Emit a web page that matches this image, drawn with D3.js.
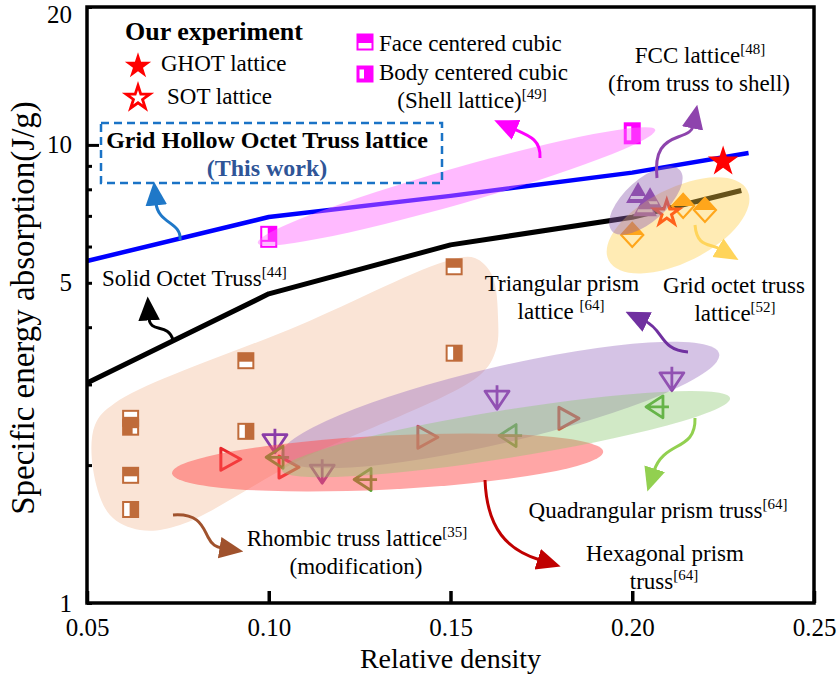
<!DOCTYPE html>
<html>
<head>
<meta charset="utf-8">
<script src="https://cdn.jsdelivr.net/npm/d3@7"></script>
<style>
  body { margin: 0; background: #fff; }
  text { font-family: "Liberation Serif", "Times New Roman", serif; fill: #000; }
</style>
</head>
<body>
<div id="chart"></div>
<script>
// ---- data (relative density, specific energy absorption J/g) ----
var xTicks = [0.05, 0.10, 0.15, 0.20, 0.25];
var yTicks = [1, 2, 3, 4, 5, 6, 7, 8, 9, 10, 20];
var yTickLabels = [1, 5, 10, 20];

var ghotTrend = [[0.05, 5.58], [0.10, 6.96], [0.15, 7.74], [0.20, 8.7], [0.232, 9.6]];
var solidOctet = [[0.05, 3.02], [0.10, 4.73], [0.15, 6.05], [0.20, 6.95], [0.23, 7.95]];

var ghot = [[0.225, 9.2]];
var sot = [[0.2095, 7.1]];

var shellLattice = [[0.10, 6.3, "mixed"], [0.20, 10.6, "bcc"]];
var rhombic = [
  [0.062, 2.53, "top"], [0.062, 2.42, "corner"], [0.062, 1.90, "bottom"], [0.062, 1.60, "left"],
  [0.0937, 2.37, "left"], [0.0937, 3.38, "bottom"], [0.151, 5.42, "bottom"], [0.151, 3.51, "left"]
];
var triPrism = [[0.1017, 2.25], [0.1147, 1.93], [0.1628, 2.80], [0.2109, 3.07]];
var hexPrism = [[0.0893, 2.06], [0.1053, 1.98], [0.1435, 2.30], [0.1823, 2.53]];
var quadPrism = [[0.1023, 2.08], [0.1265, 1.86], [0.1664, 2.32], [0.2068, 2.68]];
var gridOctet = [[0.200, 6.36], [0.214, 7.36], [0.220, 7.21]];
var fccLattice = [[0.2016, 7.85], [0.2049, 7.65], [0.2035, 7.35]];

// data clusters: long-axis end points (data units)
var clusters = [
  {name: "shell", a: [0.097, 6.11], b: [0.2063, 10.79], color: "#ff66ff", op: 0.45, hw: 18},
  {name: "tri", a: [0.1034, 2.09], b: [0.2239, 3.50], color: "#9b6fc0", op: 0.42, hw: 38},
  {name: "hex", a: [0.0734, 1.92], b: [0.192, 2.14], color: "#ff4d4d", op: 0.5, hw: 27},
  {name: "quad", a: [0.1036, 1.95], b: [0.2269, 2.80], color: "#8cc870", op: 0.4, hw: 24},
  {name: "grid", a: [0.1935, 5.6], b: [0.2317, 7.95], color: "#ffcc44", op: 0.4, hw: 37},
  {name: "fcc", a: [0.1944, 6.49], b: [0.2131, 8.82], color: "#8e5fb0", op: 0.42, hw: 21}
];
var rhombicArea = [
  [0.0517, 1.951], [0.0522, 2.447], [0.0577, 2.734], [0.1086, 4.046], [0.1499, 5.61],
  [0.1567, 5.667], [0.1614, 5.203], [0.1631, 4.149], [0.1625, 3.567], [0.1581, 3.147],
  [0.1086, 2.052], [0.0756, 1.48], [0.0646, 1.443], [0.0563, 1.556]
];

// ---- layout ----
var svgWidth = 837, svgHeight = 679;
var plotL = 87, plotR = 814, plotT = 7, plotB = 603;

var svg = d3.select("#chart").append("svg")
  .attr("width", svgWidth)
  .attr("height", svgHeight);

var x = d3.scaleLinear().domain([0.05, 0.25]).range([plotL, plotR]);
var y = d3.scaleLog().domain([1, 20]).range([plotB, plotT]);

var defs = svg.append("defs");
var arrowColors = {blue: "#1f78c8", black: "#000", magenta: "#ff00ff", purple: "#8e44ad",
  yellow: "#ffd45a", violet: "#7030a0", green: "#92d050", red: "#c00000", brown: "#a0522d"};
Object.keys(arrowColors).forEach(function(k) {
  defs.append("marker")
    .attr("id", "head-" + k)
    .attr("markerUnits", "userSpaceOnUse")
    .attr("markerWidth", 24).attr("markerHeight", 24)
    .attr("viewBox", "0 -10 20 20")
    .attr("refX", 2).attr("refY", 0)
    .attr("orient", "auto")
    .append("path")
    .attr("d", "M0,-9L20,0L0,9Z")
    .attr("fill", arrowColors[k]);
});

// rhombic cluster area
svg.append("path")
  .datum(rhombicArea)
  .attr("d", d3.line().x(d => x(d[0])).y(d => y(d[1])).curve(d3.curveCatmullRomClosed.alpha(0.5)))
  .attr("fill", "#fae4d6");

// trend lines
var line = d3.line().x(d => x(d[0])).y(d => y(d[1]));
svg.append("path").datum(solidOctet).attr("d", line)
  .attr("fill", "none").attr("stroke", "#000").attr("stroke-width", 5).attr("stroke-linejoin", "round");
svg.append("path").datum(ghotTrend).attr("d", line)
  .attr("fill", "none").attr("stroke", "#0000ff").attr("stroke-width", 4.5).attr("stroke-linejoin", "round");

// ---- marker shapes ----
function squareMarker(g, kind, color, w, h) {
  g.append("rect").attr("x", -w / 2).attr("y", -h / 2).attr("width", w).attr("height", h)
    .attr("fill", color);
  var holes = [];
  if (kind === "bottom") holes.push([-w / 2 + 2, 1, w - 4, h / 2 - 3]);
  if (kind === "top") holes.push([-w / 2 + 2, -h / 2 + 2, w - 4, 5]);
  if (kind === "left") holes.push([-w / 2 + 2, -h / 2 + 2, w / 2 - 3, h - 4]);
  if (kind === "corner") holes.push([2, 1, w / 2 - 4, h / 2 - 3]);
  if (kind === "fcc") holes.push([-w / 2 + 2, 1, w - 4, h / 2 - 3]);
  if (kind === "bcc") holes.push([-w / 2 + 3, -h / 2 + 4, w / 2 - 4, h - 8]);
  if (kind === "mixed") {
    holes.push([-w / 2 + 2, -h / 2 + 2, w / 2 - 3, h / 2 + 1]);
    holes.push([-w / 2 + 2, h / 2 - 6, w - 4, 4]);
  }
  holes.forEach(function(r) {
    g.append("rect").attr("x", r[0]).attr("y", r[1]).attr("width", r[2]).attr("height", r[3])
      .attr("fill", "#fff");
  });
}

function place(data) {
  return svg.append("g").selectAll("g").data(data).enter().append("g")
    .attr("transform", d => "translate(" + x(d[0]) + "," + y(d[1]) + ")");
}

place(rhombic).each(function(d) { squareMarker(d3.select(this), d[2], "#bf6b3a", 17, 17); });
place(shellLattice).each(function(d) { squareMarker(d3.select(this), d[2], "#ff00ff", 17, 22); });

place(triPrism).append("path")
  .attr("d", "M-12,-7L12,-7L0,11Z M0,-13L0,11")
  .attr("fill", "none").attr("stroke", "#8a3ca8").attr("stroke-width", 2.8).attr("stroke-linejoin", "round");
place(hexPrism).append("path")
  .attr("d", "M-9,-11L-9,11L11,0Z")
  .attr("fill", "none").attr("stroke", "#e8262b").attr("stroke-width", 3).attr("stroke-linejoin", "round");
place(quadPrism).append("path")
  .attr("d", "M-11,0L6,-11L6,11Z M-11,0L12,0")
  .attr("fill", "none").attr("stroke", "#4ea72e").attr("stroke-width", 2.8).attr("stroke-linejoin", "round");

var gd = place(gridOctet);
gd.append("path").attr("d", "M-11,0L0,-12L11,0Z").attr("fill", "#ff8c00");
gd.append("path").attr("d", "M-11,0L0,-12L11,0L0,12Z").attr("fill", "none")
  .attr("stroke", "#ff8c00").attr("stroke-width", 2.2);

var fm = place(fccLattice);
fm.append("path").attr("d", "M-12,10L0,-11L12,10Z").attr("fill", "#8e44ad");
fm.append("path").attr("d", "M-7,3L7,3L8,6L-8,6Z").attr("fill", "#fff");

var star = d3.symbol().type(d3.symbolStar);
place(sot).append("path").attr("d", star.size(190)())
  .attr("fill", "#fff").attr("stroke", "#ff1a00").attr("stroke-width", 3);

// ---- cluster ellipses ----
clusters.forEach(function(c) {
  var x1 = x(c.a[0]), y1 = y(c.a[1]), x2 = x(c.b[0]), y2 = y(c.b[1]);
  var ang = Math.atan2(y2 - y1, x2 - x1) * 180 / Math.PI;
  var rx = Math.hypot(x2 - x1, y2 - y1) / 2;
  svg.append("ellipse")
    .attr("transform", "translate(" + (x1 + x2) / 2 + "," + (y1 + y2) / 2 + ") rotate(" + ang + ")")
    .attr("rx", rx).attr("ry", c.hw)
    .attr("fill", c.color).attr("fill-opacity", c.op);
});

place(ghot).append("path").attr("d", star.size(290)()).attr("fill", "#ff0000");

// ---- annotation arrows ----
var arrows = [
  ["blue", "M180,240 C182,222 158,224 156,203"],
  ["black", "M173,340 C168,322 150,334 149,318"],
  ["magenta", "M540,158 C541,140 530,136 514,129"],
  ["purple", "M657,178 C654,150 664,142 678,137 C689,133 692,131 693,126"],
  ["yellow", "M695,225 C697,248 710,243 720,249"],
  ["violet", "M688,352 C660,350 664,330 645,321"],
  ["green", "M695,418 C696,452 664,440 654,471"],
  ["red", "M485,480 C487,530 508,550 540,560"],
  ["brown", "M173,515 C200,513 203,528 208,537 C212,545 216,547 222,548"]
];
arrows.forEach(function(a) {
  svg.append("path").attr("d", a[1]).attr("fill", "none")
    .attr("stroke", arrowColors[a[0]]).attr("stroke-width", 3)
    .attr("marker-end", "url(#head-" + a[0] + ")");
});

// ---- axes ----
var xAxis = svg.append("g")
  .attr("transform", "translate(0," + plotB + ")")
  .call(d3.axisBottom(x).tickValues(xTicks).tickFormat(d3.format(".2f")).tickSizeInner(-12).tickSizeOuter(0).tickPadding(15));
xAxis.select(".domain").remove();
xAxis.selectAll(".tick line").attr("stroke-width", 3.5);
xAxis.selectAll("text").attr("font-size", 25).attr("font-family", "Liberation Serif");

var yAxis = svg.append("g")
  .attr("transform", "translate(" + plotL + ",0)")
  .call(d3.axisLeft(y).tickValues(yTicks)
    .tickFormat(d => yTickLabels.indexOf(d) >= 0 ? d : "")
    .tickSizeInner(-5).tickSizeOuter(0).tickPadding(15));
yAxis.select(".domain").remove();
yAxis.selectAll(".tick line").attr("stroke-width", 3);
yAxis.selectAll(".tick").filter(d => d === 10).select("line").attr("x2", 12);
yAxis.selectAll("text").attr("font-size", 25).attr("font-family", "Liberation Serif");
yAxis.selectAll(".tick").filter(d => d === 20).select("text").attr("dy", "0.62em");

svg.append("rect")
  .attr("x", plotL).attr("y", plotT).attr("width", plotR - plotL).attr("height", plotB - plotT)
  .attr("fill", "none").attr("stroke", "#000").attr("stroke-width", 3.5);

svg.append("text")
  .attr("x", (plotL + plotR) / 2).attr("y", 668)
  .attr("text-anchor", "middle").attr("font-size", 28)
  .text("Relative density");

svg.append("text")
  .attr("transform", "translate(34," + 308 + ") rotate(-90)")
  .attr("text-anchor", "middle").attr("font-size", 33)
  .text("Specific energy absorption(J/g)");

// ---- legend ----
svg.append("text").attr("x", 125).attr("y", 40).attr("font-size", 26).attr("font-weight", "bold")
  .text("Our experiment");
svg.append("path").attr("transform", "translate(138,66)").attr("d", star.size(215)()).attr("fill", "#ff0000");
svg.append("path").attr("transform", "translate(138,98)").attr("d", star.size(175)())
  .attr("fill", "#fff").attr("stroke", "#ff0000").attr("stroke-width", 2.8);
svg.append("text").attr("x", 161).attr("y", 71).attr("font-size", 23).text("GHOT lattice");
svg.append("text").attr("x", 167).attr("y", 104).attr("font-size", 23).text("SOT lattice");

var lf = svg.append("g").attr("transform", "translate(365,42)");
squareMarker(lf, "fcc", "#ff00ff", 17, 17);
var lb = svg.append("g").attr("transform", "translate(365,74)");
squareMarker(lb, "bcc", "#ff00ff", 17, 17);

// ---- annotation text ----
function note(px, py, parts, anchor, size) {
  var t = svg.append("text").attr("x", px).attr("y", py)
    .attr("text-anchor", anchor || "start").attr("font-size", size || 23);
  parts.forEach(function(p, i) {
    if (i === 1) {
      t.append("tspan").attr("dy", -9).attr("font-size", 15).text(p);
    } else {
      t.append("tspan").text(p);
    }
  });
  return t;
}
note(379, 51, ["Face centered cubic"]);
note(379, 80, ["Body centered cubic"]);
note(472, 108, ["(Shell lattice)", "[49]"], "middle");
note(700, 63, ["FCC lattice", "[48]"], "middle");
note(699, 91, ["(from truss to shell)"], "middle");
note(102, 286, ["Solid Octet Truss", "[44]"]);
note(562, 291, ["Triangular prism"], "middle");
note(561, 319, ["lattice ", "[64]"], "middle");
note(734, 293, ["Grid octet truss"], "middle");
note(735, 321, ["lattice", "[52]"], "middle");
note(357, 546, ["Rhombic truss lattice", "[35]"], "middle");
note(356, 574, ["(modification)"], "middle");
note(658, 518, ["Quadrangular prism truss", "[64]"], "middle");
note(665, 561, ["Hexagonal prism"], "middle");
note(664, 589, ["truss", "[64]"], "middle");

// highlighted work label
svg.append("rect").attr("x", 101).attr("y", 123).attr("width", 341).attr("height", 60)
  .attr("fill", "none").attr("stroke", "#1a73c6").attr("stroke-width", 2.5)
  .attr("stroke-dasharray", "8,5");
svg.append("text").attr("x", 267).attr("y", 148).attr("text-anchor", "middle")
  .attr("font-size", 24).attr("font-weight", "bold").text("Grid Hollow Octet Truss lattice");
svg.append("text").attr("x", 267).attr("y", 176).attr("text-anchor", "middle")
  .attr("font-size", 24).attr("font-weight", "bold")
  .style("fill", "#2f5597").text("(This work)");
</script>
</body>
</html>
